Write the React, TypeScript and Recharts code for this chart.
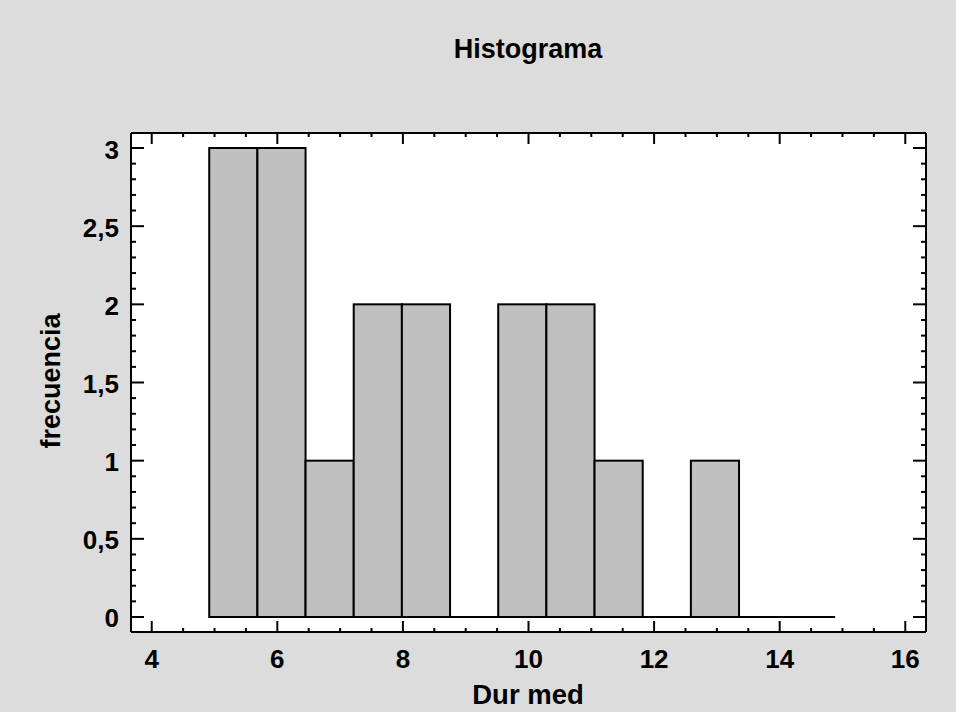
import React from 'react';
import { ComposedChart, Bar, XAxis, YAxis, CartesianGrid, ReferenceLine } from 'recharts';

// histogram bins (lower edge of each class) and counts
const binStarts = [4.912, 5.679, 6.446, 7.213, 7.98, 8.747, 9.514, 10.281, 11.048, 11.815, 12.582, 13.349, 14.116];
const binWidth = 0.767;
const counts = [3, 3, 1, 2, 2, 0, 2, 2, 1, 0, 1, 0, 0];

const xMajorTicks = [4, 6, 8, 10, 12, 14, 16];
const yMajorTicks = [0, 0.5, 1, 1.5, 2, 2.5, 3];
const xMinorStep = 0.5;
const yMinorStep = 0.1;

const xDomain: [number, number] = [3.67, 16.33];
const yDomain: [number, number] = [-0.096, 3.096];

const W = 956;
const H = 712;
const margin = { top: 123, right: 20, bottom: 40, left: 71 };
const plotW = W - margin.left - margin.right - 60 - 10;

const data = binStarts.map((s, i) => ({ mid: s + binWidth / 2, count: counts[i] }));
// full bin width in pixels, so neighbouring classes touch
const binPx = (binWidth * plotW) / (xDomain[1] - xDomain[0]);

const buildTicks = (majors: number[], step: number) => {
  const out: number[] = [];
  const n = Math.round((majors[majors.length - 1] - majors[0]) / step);
  for (let i = 0; i <= n; i++) out.push(Math.round((majors[0] + i * step) * 1000) / 1000);
  return out;
};
const xTicks = buildTicks(xMajorTicks, xMinorStep);
const yTicks = buildTicks(yMajorTicks, yMinorStep);

const isMajor = (v: number, majors: number[]) => majors.some(m => Math.abs(m - v) < 1e-6);
const font = '"Liberation Sans", Arial, sans-serif';

const XTick = ({ x, y, payload, side }: any) => {
  const major = isMajor(payload.value, xMajorTicks);
  const len = major ? 11 : 4;
  const dir = side === 'bottom' ? -1 : 1;
  return (
    <g>
      <line x1={x} y1={y} x2={x} y2={y + dir * len} stroke="#000" strokeWidth={2} />
      {side === 'bottom' && major && (
        <text x={x} y={y + 35.5} textAnchor="middle" fontFamily={font} fontWeight="bold" fontSize={26} fill="#000">
          {payload.value}
        </text>
      )}
    </g>
  );
};

const YTick = ({ x, y, payload, side }: any) => {
  const major = isMajor(payload.value, yMajorTicks);
  const len = major ? 13 : 5;
  const dir = side === 'left' ? 1 : -1;
  return (
    <g>
      <line x1={x} y1={y} x2={x + dir * len} y2={y} stroke="#000" strokeWidth={2} />
      {side === 'left' && major && (
        <text x={x - 12} y={y + 10.5} textAnchor="end" fontFamily={font} fontWeight="bold" fontSize={26} fill="#000">
          {String(payload.value).replace('.', ',')}
        </text>
      )}
    </g>
  );
};

const BinShape = (p: any) => {
  if (!p.height) return null;
  const cx = p.x + p.width / 2;
  return <rect x={cx - binPx / 2} y={p.y} width={binPx} height={p.height} fill="#c0c0c0" stroke="#000" strokeWidth={2} />;
};

const axisLine = { stroke: '#000', strokeWidth: 2 };

export default function App() {
  return (
    <div style={{ position: 'absolute', left: 0, top: 0, width: W, height: H, background: '#dcdcdc' }}>
      <ComposedChart width={W} height={H} data={data} margin={margin}>
        <CartesianGrid fill="#ffffff" horizontal={false} vertical={false} stroke="none" />
        <XAxis
          dataKey="mid"
          type="number"
          domain={xDomain}
          allowDataOverflow
          ticks={xTicks}
          interval={0}
          height={40}
          tickSize={0}
          tickMargin={0}
          tickLine={false}
          axisLine={axisLine}
          tick={(p: any) => <XTick {...p} side="bottom" />}
        />
        <XAxis
          xAxisId="top"
          orientation="top"
          dataKey="mid"
          type="number"
          domain={xDomain}
          allowDataOverflow
          ticks={xTicks}
          interval={0}
          height={10}
          tickSize={0}
          tickMargin={0}
          tickLine={false}
          axisLine={axisLine}
          tick={(p: any) => <XTick {...p} side="top" />}
        />
        <YAxis
          type="number"
          domain={yDomain}
          allowDataOverflow
          ticks={yTicks}
          interval={0}
          width={60}
          tickSize={0}
          tickMargin={0}
          tickLine={false}
          axisLine={axisLine}
          tick={(p: any) => <YTick {...p} side="left" />}
        />
        <YAxis
          yAxisId="right"
          orientation="right"
          type="number"
          domain={yDomain}
          allowDataOverflow
          ticks={yTicks}
          interval={0}
          width={10}
          tickSize={0}
          tickMargin={0}
          tickLine={false}
          axisLine={axisLine}
          tick={(p: any) => <YTick {...p} side="right" />}
        />
        <Bar dataKey="count" shape={BinShape} isAnimationActive={false} />
        <ReferenceLine
          segment={[{ x: binStarts[0], y: 0 }, { x: binStarts[binStarts.length - 1] + binWidth, y: 0 }]}
          stroke="#000"
          strokeWidth={2}
        />
        <text x={528} y={58} textAnchor="middle" fontFamily={font} fontWeight="bold" fontSize={27} fill="#000">
          Histograma
        </text>
        <text x={528} y={704} textAnchor="middle" fontFamily={font} fontWeight="bold" fontSize={27.5} fill="#000">
          Dur med
        </text>
        <text x={60} y={381} transform="rotate(-90 60 381)" textAnchor="middle" fontFamily={font} fontWeight="bold" fontSize={27} fill="#000">
          frecuencia
        </text>
      </ComposedChart>
    </div>
  );
}
